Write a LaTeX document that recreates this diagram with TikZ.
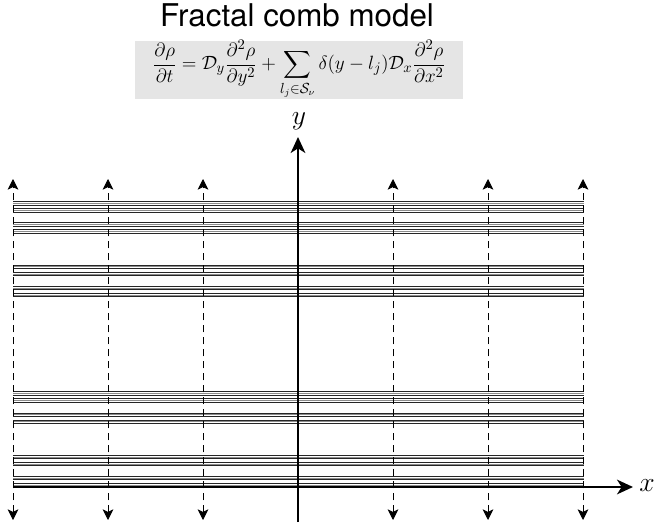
\documentclass[tikz,border=0pt]{standalone}
\usepackage{fontspec}
\usepackage{amsmath}
\newfontfamily\titlefont{TeX Gyre Heros}
\usetikzlibrary{arrows.meta}
\begin{document}
\begin{tikzpicture}[x=0.75pt,y=-0.75pt,
  axisline/.style={line width=1.5pt,-{Stealth[length=12pt,width=11pt,inset=3.5pt]}},
  toothline/.style={line width=0.65pt,dash pattern=on 5.5pt off 3.5pt,
    {Stealth[length=8pt,width=8pt,inset=2pt]}-{Stealth[length=8pt,width=8pt,inset=2pt]}},
  combline/.style={line width=0.7pt,color=black!85},
  combgray/.style={line width=0.6pt,color=black!45},
  lbl/.style={inner sep=0pt,font=\fontsize{22}{24}\selectfont}]
\useasboundingbox (0,0) rectangle (654,528);
% title
\node[inner sep=0pt,anchor=base,font=\titlefont\fontsize{23.5}{26}\selectfont] (title) at (297,27) {Fractal comb model};
% equation box
\fill[black!10] (135,41) rectangle (463,99);
\node[inner sep=0pt,font=\fontsize{15}{18}\selectfont] (eq) at (299,70)
  {$\displaystyle \frac{\partial\rho}{\partial t}=\mathcal{D}_y\frac{\partial^2\rho}{\partial y^2}+\sum_{l_j\in\mathcal{S}_\nu}\delta(y-l_j)\mathcal{D}_x\frac{\partial^2\rho}{\partial x^2}$};
% comb horizontal lines (Cantor set, level 4 endpoints)
\foreach \a in {0,2}{\foreach \b in {0,2}{\foreach \c in {0,2}{\foreach \d in {0,2}{
  \pgfmathsetmacro\s{201.7+285.3*(\a/3+\b/9+\c/27+\d/81)}
  \pgfmathsetmacro\e{\s+285.3/81}
  \pgfmathsetmacro\m{\s+285.3/162}
  \draw[combline] (13,\s) -- (584,\s);
  \draw[combgray] (13,\m) -- (584,\m);
  \draw[combline] (13,\e) -- (584,\e);
}}}}
% vertical teeth
\foreach \k in {-3,-2,-1,1,2,3}{
  \coordinate (b\k) at (298+95*\k,520);
  \coordinate (t\k) at (298+95*\k,179);
  \draw[toothline] (b\k) -- (t\k);
}
% axes
\coordinate (yb) at (298,522);
\coordinate (yt) at (298,137);
\coordinate (xl) at (13,487);
\coordinate (xr) at (633,487);
\draw[axisline] (yb) -- (yt);
\draw[axisline] (xl) -- (xr);
\node[lbl] (ylab) at (299,121) {$y$};
\node[lbl] (xlab) at (647,486) {$x$};
\end{tikzpicture}
\end{document}
